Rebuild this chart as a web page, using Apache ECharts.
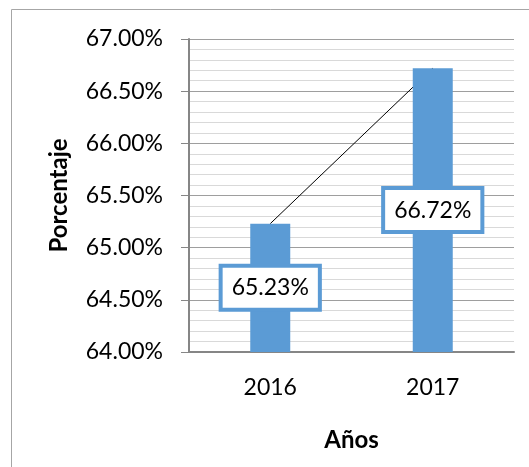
<!DOCTYPE html>
<html>
<head>
<meta charset="utf-8">
<script src="https://cdn.jsdelivr.net/npm/echarts@6/dist/echarts.min.js"></script>
<style>
  html, body { margin: 0; padding: 0; background: #fff; }
  #chart { width: 529px; height: 467px; }
</style>
</head>
<body>
<div id="chart"></div>
<script>
// Share of the population per year, in percent
const years = ['2016', '2017'];
const porcentaje = [65.23, 66.72];
const yTicks = { min: 64, max: 67, step: 0.5 };

const FONT = 'Lato';
const BLUE = '#5B9BD5';

const chart = echarts.init(document.getElementById('chart'), null, { renderer: 'canvas' });

chart.setOption({
  backgroundColor: '#ffffff',
  animation: false,
  textStyle: { fontFamily: FONT },
  graphic: [{
    type: 'rect',
    shape: { x: 11.5, y: 9.5, width: 600, height: 600 },
    style: { fill: 'none', stroke: '#a6a6a6', lineWidth: 1 },
    silent: true,
    z: -10
  }],
  grid: { left: 189, top: 39, right: 15, bottom: 115, containLabel: false },
  xAxis: {
    type: 'category',
    data: years,
    name: 'Años',
    nameLocation: 'middle',
    nameGap: 76,
    nameTextStyle: { fontFamily: FONT, fontWeight: 'bold', fontSize: 24, color: '#000' },
    axisLine: { show: true, lineStyle: { color: '#868686', width: 2 } },
    axisTick: { show: false },
    axisLabel: { fontFamily: FONT, fontSize: 23, color: '#000', margin: 24 },
    splitLine: { show: false }
  },
  yAxis: {
    type: 'value',
    min: yTicks.min,
    max: yTicks.max,
    interval: yTicks.step,
    name: 'Porcentaje',
    nameLocation: 'middle',
    nameRotate: 90,
    nameGap: 118,
    nameTextStyle: { fontFamily: FONT, fontWeight: 'bold', fontSize: 24, color: '#000' },
    axisLine: { show: true, lineStyle: { color: '#868686', width: 2 } },
    axisTick: { show: true, inside: false, length: 8, lineStyle: { color: '#868686', width: 1 } },
    axisLabel: {
      fontFamily: FONT, fontSize: 23, color: '#000', margin: 26,
      formatter: v => v.toFixed(2) + '%'
    },
    splitLine: { show: true, lineStyle: { color: '#9e9e9e', width: 1 } },
    minorTick: { show: false, splitNumber: 5 },
    minorSplitLine: { show: true, lineStyle: { color: '#d9d9d9', width: 1 } }
  },
  series: [
    {
      type: 'bar',
      data: porcentaje,
      barWidth: 40,
      itemStyle: { color: BLUE },
      label: {
        show: true,
        position: 'inside',
        formatter: p => p.value.toFixed(2) + '%',
        fontFamily: FONT,
        fontSize: 23,
        color: '#000',
        backgroundColor: '#fff',
        borderColor: BLUE,
        borderWidth: 4,
        padding: [6, 9, 5, 9],
        lineHeight: 29
      },
      z: 2
    },
    {
      type: 'line',
      data: porcentaje,
      symbol: 'none',
      lineStyle: { color: '#000', width: 1 },
      z: 1
    }
  ]
});
</script>
</body>
</html>
